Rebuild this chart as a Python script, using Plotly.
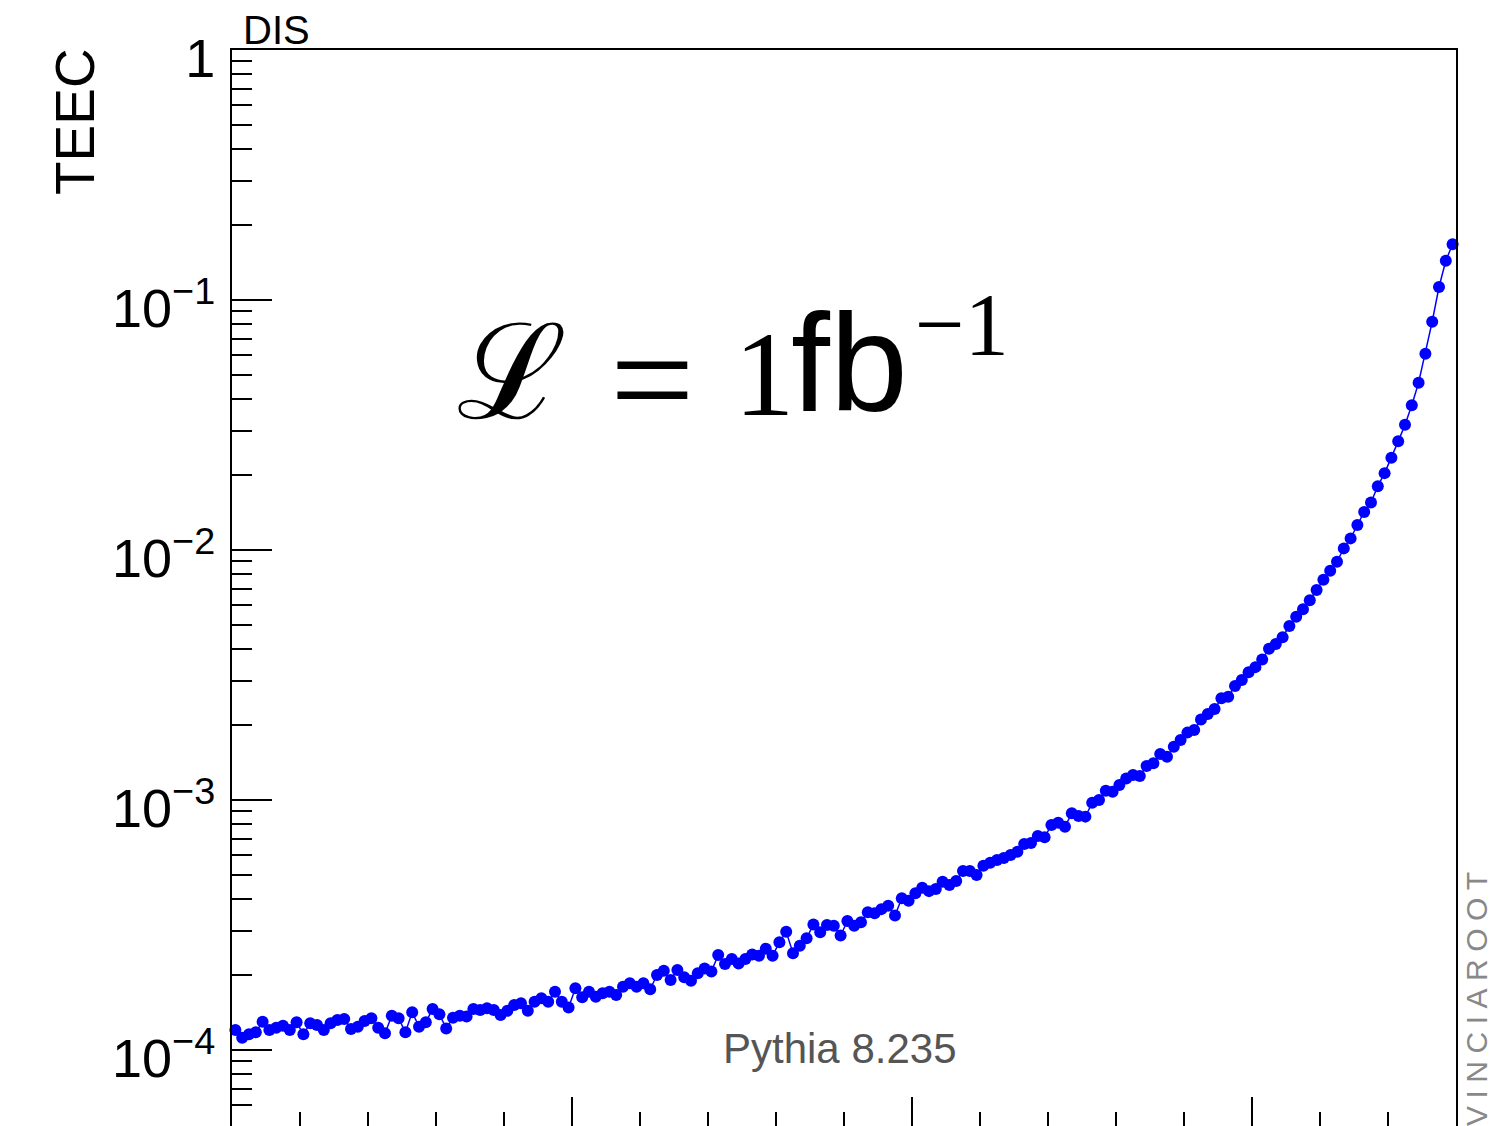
import plotly.graph_objects as go

# TEEC distribution in 1-degree bins of the opening angle
angle_deg = [i + 0.5 for i in range(180)]
teec = [
    # 0.5 - 35.5
    1.202e-4, 1.12e-4, 1.155e-4, 1.177e-4, 1.297e-4, 1.202e-4, 1.228e-4, 1.25e-4, 1.202e-4, 1.29e-4,
    1.155e-4, 1.279e-4, 1.259e-4, 1.202e-4, 1.279e-4, 1.318e-4, 1.33e-4, 1.213e-4, 1.24e-4, 1.306e-4,
    1.34e-4, 1.228e-4, 1.166e-4, 1.372e-4, 1.34e-4, 1.177e-4, 1.415e-4, 1.24e-4, 1.29e-4, 1.459e-4,
    1.39e-4, 1.22e-4, 1.346e-4, 1.372e-4, 1.36e-4, 1.459e-4,
    # 36.5 - 71.5
    1.445e-4, 1.469e-4, 1.445e-4, 1.38e-4, 1.436e-4, 1.514e-4, 1.537e-4, 1.436e-4, 1.56e-4, 1.61e-4,
    1.56e-4, 1.71e-4, 1.56e-4, 1.48e-4, 1.766e-4, 1.625e-4, 1.71e-4, 1.633e-4, 1.686e-4, 1.71e-4,
    1.66e-4, 1.79e-4, 1.848e-4, 1.79e-4, 1.848e-4, 1.75e-4, 1.995e-4, 2.075e-4, 1.905e-4, 2.09e-4,
    1.954e-4, 1.893e-4, 2.027e-4, 2.12e-4, 2.06e-4, 2.40e-4,
    # 72.5 - 107.5
    2.21e-4, 2.31e-4, 2.22e-4, 2.31e-4, 2.41e-4, 2.38e-4, 2.54e-4, 2.38e-4, 2.70e-4, 2.97e-4,
    2.44e-4, 2.61e-4, 2.80e-4, 3.18e-4, 2.96e-4, 3.16e-4, 3.14e-4, 2.87e-4, 3.28e-4, 3.14e-4,
    3.24e-4, 3.56e-4, 3.52e-4, 3.66e-4, 3.78e-4, 3.45e-4, 4.05e-4, 3.95e-4, 4.24e-4, 4.46e-4,
    4.32e-4, 4.41e-4, 4.71e-4, 4.57e-4, 4.74e-4, 5.20e-4,
    # 108.5 - 143.5
    5.20e-4, 5.01e-4, 5.46e-4, 5.61e-4, 5.75e-4, 5.86e-4, 6.03e-4, 6.21e-4, 6.67e-4, 6.73e-4,
    7.18e-4, 7.10e-4, 7.94e-4, 8.11e-4, 7.82e-4, 8.85e-4, 8.63e-4, 8.58e-4, 9.75e-4, 1.0e-3,
    1.089e-3, 1.08e-3, 1.148e-3, 1.22e-3, 1.259e-3, 1.247e-3, 1.368e-3, 1.402e-3, 1.528e-3, 1.49e-3,
    1.634e-3, 1.738e-3, 1.86e-3, 1.905e-3, 2.10e-3, 2.21e-3,
    # 144.5 - 179.5
    2.31e-3, 2.55e-3, 2.59e-3, 2.86e-3, 3.02e-3, 3.24e-3, 3.40e-3, 3.65e-3, 4.03e-3, 4.21e-3,
    4.48e-3, 4.97e-3, 5.41e-3, 5.79e-3, 6.29e-3, 6.92e-3, 7.61e-3, 8.26e-3, 8.98e-3, 1.015e-2,
    1.113e-2, 1.259e-2, 1.419e-2, 1.55e-2, 1.80e-2, 2.03e-2, 2.34e-2, 2.72e-2, 3.17e-2, 3.79e-2,
    4.67e-2, 6.10e-2, 8.19e-2, 0.1127, 0.1436, 0.167,
]

y_major_vals = [1e-4, 1e-3, 1e-2, 1e-1, 1.0]
y_major_text = ["10<sup>\u22124</sup>", "10<sup>\u22123</sup>", "10<sup>\u22122</sup>",
                "10<sup>\u22121</sup>", "1"]
y_minor_vals = [m * 10.0 ** e for e in range(-5, 0) for m in range(2, 10)]

W, H = 1512, 1126
L, R, T, B = 232, 1456, 50, 1126
SANS = "Liberation Sans, Arial, Helvetica, sans-serif"
SERIF = "Liberation Serif, Times New Roman, serif"


def px(x):
    return (x - L) / (R - L)


def py(y):
    return (B - y) / (B - T)


fig = go.Figure()
fig.add_trace(go.Scatter(
    x=angle_deg, y=teec, mode="lines+markers",
    line=dict(color="#0000ff", width=1.5),
    marker=dict(color="#0000ff", size=12, line=dict(width=0)),
    showlegend=False, cliponaxis=False,
))

axis_common = dict(showline=True, linecolor="black", linewidth=2, mirror=True,
                   showgrid=False, zeroline=False, ticks="inside", tickcolor="black",
                   tickwidth=2)

fig.update_layout(
    width=W, height=H,
    margin=dict(l=L, r=W - R, t=T, b=H - B, pad=0),
    paper_bgcolor="white", plot_bgcolor="white",
    font=dict(family=SANS, color="black"),
    xaxis=dict(range=[0, 180], tickmode="linear", tick0=0, dtick=50, ticklen=29,
               showticklabels=False,
               minor=dict(ticks="inside", dtick=10, tick0=0, ticklen=14,
                          tickcolor="black", tickwidth=2),
               **axis_common),
    yaxis=dict(type="log", range=[-4.304, 0], tickmode="array",
               tickvals=y_major_vals, ticktext=y_major_text, ticklen=40,
               tickfont=dict(size=54, family=SANS), ticklabelstandoff=4,
               ticklabelshift=8,
               minor=dict(ticks="inside", tickmode="array", tickvals=y_minor_vals,
                          ticklen=20, tickcolor="black", tickwidth=2),
               **axis_common),
)

ann = []
# axis title, aligned to the top end of the axis
ann.append(dict(text="TEEC", x=px(75), y=py(122), textangle=-90,
                font=dict(size=55, family=SANS, color="black")))
ann.append(dict(text="DIS", x=px(241), y=py(30), xanchor="left",
                font=dict(size=40, family=SANS, color="black")))
ann.append(dict(text="Pythia 8.235", x=px(840), y=py(1048),
                font=dict(size=42, family=SANS, color="#555555")))
ann.append(dict(text="\u2005".join("VINCIAROOT"), x=px(1476), y=py(999), textangle=-90,
                font=dict(size=30, family=SANS, color="#888888")))
# luminosity label
ann.append(dict(text="\u2112", x=px(512), y=py(372),
                font=dict(size=132, family="DejaVu Serif, serif", color="black")))
ann.append(dict(text="=", x=px(652), y=py(379),
                font=dict(size=150, family=SERIF, color="black")))
ann.append(dict(text="1", x=px(764), y=py(374),
                font=dict(size=121, family=SERIF, color="black")))
ann.append(dict(text="fb", x=px(849), y=py(362),
                font=dict(size=140, family=SANS, color="black")))
ann.append(dict(text="\u22121", x=px(962), y=py(325),
                font=dict(size=88, family=SERIF, color="black")))

for a in ann:
    a.setdefault("xanchor", "center")
    a.setdefault("yanchor", "middle")
    fig.add_annotation(xref="paper", yref="paper", showarrow=False, **a)

fig.write_html("out.html")
